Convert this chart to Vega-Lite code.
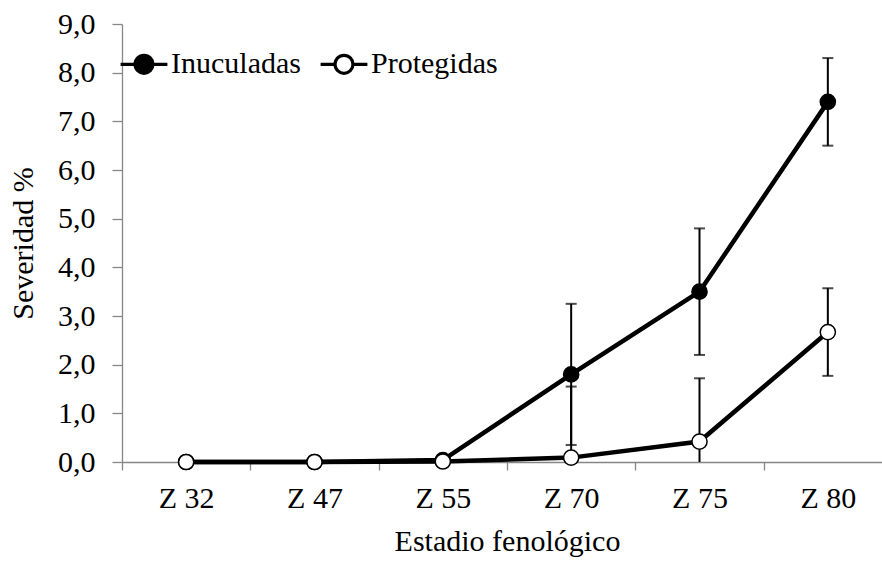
{
  "$schema": "https://vega.github.io/schema/vega-lite/v6.json",
  "width": 760,
  "height": 438,
  "autosize": {"type": "none"},
  "padding": {"left": 122, "top": 24, "right": 0, "bottom": 103},
  "background": "white",
  "config": {
    "view": {"stroke": null},
    "font": "'Liberation Serif', 'Times New Roman', serif",
    "axis": {
      "grid": false,
      "domainColor": "#868686",
      "domainWidth": 1.3,
      "tickColor": "#868686",
      "tickWidth": 1.3,
      "labelFont": "'Liberation Serif', 'Times New Roman', serif",
      "labelFontSize": 30,
      "labelColor": "black",
      "titleFont": "'Liberation Serif', 'Times New Roman', serif",
      "titleFontSize": 30,
      "titleFontWeight": "normal",
      "titleColor": "black"
    }
  },
  "data": {
    "values": [
      {"estadio": "Z 32", "serie": "Inuculadas", "valor": 0, "error": 0},
      {"estadio": "Z 47", "serie": "Inuculadas", "valor": 0, "error": 0},
      {"estadio": "Z 55", "serie": "Inuculadas", "valor": 0.04, "error": 0},
      {"estadio": "Z 70", "serie": "Inuculadas", "valor": 1.8, "error": 1.45},
      {"estadio": "Z 75", "serie": "Inuculadas", "valor": 3.5, "error": 1.3},
      {"estadio": "Z 80", "serie": "Inuculadas", "valor": 7.4, "error": 0.9},
      {"estadio": "Z 32", "serie": "Protegidas", "valor": 0, "error": 0},
      {"estadio": "Z 47", "serie": "Protegidas", "valor": 0, "error": 0},
      {"estadio": "Z 55", "serie": "Protegidas", "valor": 0.01, "error": 0},
      {"estadio": "Z 70", "serie": "Protegidas", "valor": 0.09, "error": 1.46},
      {"estadio": "Z 75", "serie": "Protegidas", "valor": 0.42, "error": 1.3},
      {"estadio": "Z 80", "serie": "Protegidas", "valor": 2.67, "error": 0.9}
    ]
  },
  "encoding": {
    "x": {
      "field": "estadio",
      "type": "nominal",
      "scale": {
        "type": "band",
        "domain": ["Z 32", "Z 47", "Z 55", "Z 70", "Z 75", "Z 80"],
        "range": [0, 770],
        "paddingInner": 0,
        "paddingOuter": 0
      },
      "axis": {
        "title": "Estadio fenológico",
        "labelAngle": 0,
        "tickBand": "extent",
        "tickSize": 8,
        "labelPadding": 13,
        "titlePadding": 13
      }
    },
    "y": {
      "field": "valor",
      "type": "quantitative",
      "scale": {"domain": [0, 9], "nice": false, "zero": true},
      "axis": {
        "title": "Severidad %",
        "values": [0, 1, 2, 3, 4, 5, 6, 7, 8, 9],
        "labelExpr": "replace(format(datum.value, '.1f'), '.', ',')",
        "tickSize": 10,
        "labelPadding": 17,
        "titlePadding": 19
      }
    }
  },
  "layer": [
    {
      "transform": [{"filter": "datum.error > 0"}],
      "mark": {
        "type": "errorbar",
        "clip": true,
        "rule": {"strokeWidth": 2, "color": "black", "clip": true},
        "ticks": {"size": 11, "thickness": 2, "color": "black", "clip": true}
      },
      "encoding": {
        "yError": {"field": "error"},
        "detail": {"field": "serie"}
      }
    },
    {
      "mark": {"type": "line", "color": "black", "strokeWidth": 4.5},
      "encoding": {
        "detail": {"field": "serie"}
      }
    },
    {
      "mark": {"type": "point", "shape": "circle", "filled": true, "size": 230, "stroke": "black", "strokeWidth": 1.5, "opacity": 1},
      "encoding": {
        "fill": {
          "field": "serie",
          "type": "nominal",
          "scale": {"domain": ["Inuculadas", "Protegidas"], "range": ["black", "white"]},
          "legend": {
            "title": null,
            "orient": "none",
            "legendX": 7,
            "legendY": 25,
            "direction": "horizontal",
            "padding": 0,
            "symbolType": "M-2.6,0H-1M1,0H2.6M-1,0A1,1 0 1,0 1,0A1,1 0 1,0 -1,0Z",
            "symbolSize": 324,
            "symbolStrokeColor": "black",
            "symbolStrokeWidth": 3.2,
            "symbolOpacity": 1,
            "labelFont": "'Liberation Serif', 'Times New Roman', serif",
            "labelFontSize": 30,
            "labelColor": "black",
            "labelOffset": 12,
            "labelLimit": 0,
            "columnPadding": 13
          }
        }
      }
    }
  ]
}
